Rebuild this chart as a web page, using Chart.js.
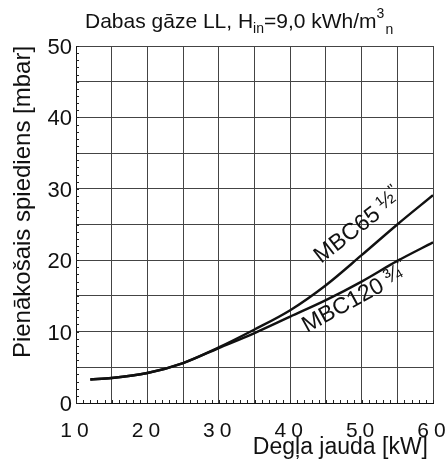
<!DOCTYPE html>
<html>
<head>
<meta charset="utf-8">
<script src="https://cdn.jsdelivr.net/npm/chart.js@4.4.0/dist/chart.umd.min.js"></script>
<style>
  html, body { margin: 0; padding: 0; background: #fff; }
  #wrap { width: 447px; height: 468px; }
</style>
</head>
<body>
<div id="wrap"><canvas id="chart" width="447" height="468"></canvas></div>
<script>
// burner output [kW] vs. required gas pressure [mbar]
const loadKW = [12, 15, 20, 25, 30, 35, 40, 45, 50, 55, 60];
const mbc65 = [3.3, 3.5, 4.2, 5.6, 7.8, 10.3, 13.0, 16.5, 20.7, 25.0, 29.1];
const mbc120 = [3.3, 3.5, 4.2, 5.6, 7.7, 9.8, 12.1, 14.4, 17.0, 19.9, 22.5];

const xTicks = [10, 20, 30, 40, 50, 60];
const yTicks = [0, 10, 20, 30, 40, 50];

const FONT = '"Liberation Sans", Arial, Helvetica, sans-serif';

function toPoints(xs, ys) {
  return xs.map((x, i) => ({ x: x, y: ys[i] }));
}

const labelsPlugin = {
  id: "labels",
  afterDraw(chart) {
    const ctx = chart.ctx;
    const xs = chart.scales.x;
    const ys = chart.scales.y;
    const area = chart.chartArea;
    ctx.save();

    // minor inward ticks every 1 unit on bottom and left
    ctx.strokeStyle = "#222";
    ctx.lineWidth = 1;
    ctx.beginPath();
    for (let v = 10; v <= 60; v++) {
      const px = Math.round(xs.getPixelForValue(v)) + 0.5;
      ctx.moveTo(px, area.bottom);
      ctx.lineTo(px, area.bottom - 3);
    }
    for (let v = 0; v <= 50; v++) {
      const py = Math.round(ys.getPixelForValue(v)) + 0.5;
      ctx.moveTo(area.left, py);
      ctx.lineTo(area.left + 3, py);
    }
    ctx.stroke();

    ctx.fillStyle = "#111";
    ctx.textBaseline = "alphabetic";

    // x tick labels
    ctx.font = "21px " + FONT;
    ctx.textAlign = "center";
    ctx.letterSpacing = "5px";
    xTicks.forEach((v) => {
      ctx.fillText(String(v), xs.getPixelForValue(v) + 1, 437);
    });
    ctx.letterSpacing = "0px";

    // y tick labels
    ctx.font = "22px " + FONT;
    ctx.textAlign = "right";
    yTicks.forEach((v) => {
      ctx.fillText(String(v), 72, ys.getPixelForValue(v) + 8);
    });

    // x title
    ctx.font = "23px " + FONT;
    ctx.textAlign = "right";
    ctx.fillText("Degļa jauda [kW]", 428, 454);

    // y title
    ctx.save();
    ctx.translate(30, 202);
    ctx.rotate(-Math.PI / 2);
    ctx.textAlign = "center";
    ctx.font = "24px " + FONT;
    ctx.fillText("Pienākošais spiediens [mbar]", 0, 0);
    ctx.restore();

    // title with sub/superscripts
    const parts = [
      ["Dabas gāze LL, H", 21, 0],
      ["in", 14, 5],
      ["=9,0 kWh/m", 21, 0],
      ["3", 14, -10],
      ["n", 14, 6],
    ];
    ctx.textAlign = "left";
    let tx = 85;
    const base = 28;
    parts.forEach(([t, size, dy], i) => {
      ctx.font = size + "px " + FONT;
      ctx.fillText(t, tx, base + dy);
      tx += ctx.measureText(t).width + (i === 3 ? 1 : 0);
    });

    // curve labels
    function curveLabel(main, frac, x, y, angle) {
      ctx.save();
      ctx.translate(x, y);
      ctx.rotate(angle);
      ctx.textAlign = "left";
      ctx.font = "23px " + FONT;
      const w = ctx.measureText(main).width;
      ctx.fillText(main, 0, 0);
      ctx.font = "21px " + FONT;
      ctx.fillText(frac, w + 5, -4);
      const fw = ctx.measureText(frac).width;
      ctx.font = "16px " + FONT;
      ctx.fillText("\"", w + 5 + fw, -10);
      ctx.restore();
    }
    curveLabel("MBC65", "½", 321, 264, -0.66);
    curveLabel("MBC120", "¾", 307, 333, -0.5);

    ctx.restore();
  },
};

new Chart(document.getElementById("chart"), {
  type: "line",
  data: {
    datasets: [
      {
        label: "MBC65 1/2\"",
        data: toPoints(loadKW, mbc65),
        borderColor: "#111",
        borderWidth: 2.4,
        pointRadius: 0,
        cubicInterpolationMode: "monotone",
        fill: false,
      },
      {
        label: "MBC120 3/4\"",
        data: toPoints(loadKW, mbc120),
        borderColor: "#111",
        borderWidth: 2.4,
        pointRadius: 0,
        cubicInterpolationMode: "monotone",
        fill: false,
      },
    ],
  },
  options: {
    responsive: false,
    animation: false,
    devicePixelRatio: 1,
    layout: { padding: { left: 76, right: 14, top: 46, bottom: 65 } },
    plugins: {
      legend: { display: false },
      tooltip: { enabled: false },
      title: { display: false },
    },
    scales: {
      x: {
        type: "linear",
        min: 10,
        max: 60,
        ticks: { display: false, stepSize: 5 },
        grid: { color: "#444", lineWidth: 1, drawTicks: false },
        border: { color: "#111", width: 1 },
      },
      y: {
        type: "linear",
        min: 0,
        max: 50,
        ticks: { display: false, stepSize: 5 },
        grid: { color: "#444", lineWidth: 1, drawTicks: false },
        border: { color: "#111", width: 1 },
      },
    },
  },
  plugins: [labelsPlugin],
});
</script>
</body>
</html>
